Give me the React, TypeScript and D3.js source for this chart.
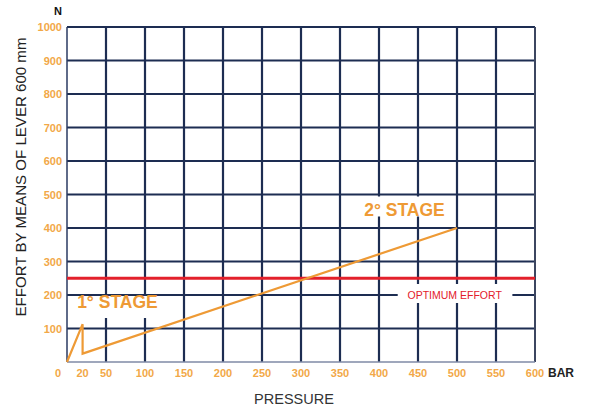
import React from "react";
import * as d3 from "d3";

const xTicks = [0, 20, 50, 100, 150, 200, 250, 300, 350, 400, 450, 500, 550, 600];
const xGrid = [50, 100, 150, 200, 250, 300, 350, 400, 450, 500, 550];
const yTicks = [100, 200, 300, 400, 500, 600, 700, 800, 900, 1000];
const yGrid = [100, 200, 300, 400, 500, 600, 700, 800, 900];
const stagePressure = [0, 20, 20, 500];
const stageEffort = [0, 113, 25, 400];
const optimumEffort = 250;

const W = 590;
const H = 410;
const FONT = "'Liberation Sans', Arial, Helvetica, sans-serif";
const GRID = "#1d2d52";
const ORANGE = "#ee9a35";
const TICK = "#f2a847";
const RED = "#e3202b";

export default function App() {
  const x = d3.scaleLinear().domain([0, 600]).range([67, 535]);
  const y = d3.scaleLinear().domain([0, 1000]).range([362, 27]);
  const pts = stagePressure.map((p, i) => [p, stageEffort[i]] as [number, number]);
  const line = d3
    .line<[number, number]>()
    .x((d) => x(d[0]))
    .y((d) => y(d[1]));

  return (
    <svg
      width={W}
      height={H}
      style={{ position: "absolute", left: 0, top: 0, background: "#fff" }}
      fontFamily={FONT}
    >
      {/* grid */}
      {xGrid.map((v) => (
        <line key={"vx" + v} x1={x(v)} x2={x(v)} y1={y(0)} y2={y(1000)} stroke={GRID} strokeWidth={2.2} />
      ))}
      {yGrid.map((v) => (
        <line key={"hy" + v} x1={x(0)} x2={x(600)} y1={y(v)} y2={y(v)} stroke={GRID} strokeWidth={2.2} />
      ))}
      <line x1={x(0)} x2={x(600)} y1={y(1000)} y2={y(1000)} stroke={GRID} strokeWidth={2} />
      <line x1={x(600)} x2={x(600)} y1={y(0)} y2={y(1000)} stroke="#3c4660" strokeWidth={2} />
      <line x1={x(0)} x2={x(600)} y1={y(0)} y2={y(0)} stroke="#7f8aa6" strokeWidth={1.5} />
      <line x1={x(0)} x2={x(0)} y1={y(0)} y2={y(1000)} stroke="#2a3a62" strokeWidth={1.5} />

      {/* label backgrounds */}
      <rect x={x(12)} y={y(200) + 1} width={x(130) - x(12)} height={22} fill="#fff" />
      <rect x={x(375)} y={y(500) + 2} width={x(490) - x(375)} height={20} fill="#fff" />
      <rect x={x(424)} y={y(200) - 11} width={x(571) - x(424)} height={19} fill="#fff" />

      {/* optimum effort */}
      <line x1={x(0)} x2={x(600)} y1={y(optimumEffort)} y2={y(optimumEffort)} stroke={RED} strokeWidth={3} />
      <text x={x(497)} y={y(200) + 4} textAnchor="middle" fill={RED} fontSize={10.5}>
        OPTIMUM EFFORT
      </text>

      {/* stage line */}
      <path d={line(pts) || ""} fill="none" stroke={ORANGE} strokeWidth={2.2} strokeLinejoin="miter" />

      <text x={x(13)} y={y(150) - 4} fill={ORANGE} fontSize={17.5} fontWeight="bold">
        1° STAGE
      </text>
      <text x={x(381)} y={y(450) + 5} fill={ORANGE} fontSize={17.5} fontWeight="bold">
        2° STAGE
      </text>

      {/* y ticks */}
      {yTicks.map((v) => (
        <text key={"yt" + v} x={62} y={y(v) + 4} textAnchor="end" fill={TICK} fontSize={11} fontWeight="bold">
          {v}
        </text>
      ))}
      {/* x ticks */}
      {xTicks.map((v) => (
        <text
          key={"xt" + v}
          x={x(v) + (v === 0 ? -9 : 0)}
          y={377}
          textAnchor="middle"
          fill={TICK}
          fontSize={11}
          fontWeight="bold"
        >
          {v}
        </text>
      ))}
      <text x={548} y={377} fill="#222" fontSize={12} fontWeight="bold">
        BAR
      </text>
      <text x={58} y={15} textAnchor="middle" fill="#111" fontSize={11} fontWeight="bold">
        N
      </text>
      <text x={294} y={404} textAnchor="middle" fill="#333" fontSize={14.5}>
        PRESSURE
      </text>
      <text
        transform={`translate(26, 177) rotate(-90)`}
        textAnchor="middle"
        fill="#222"
        fontSize={14}
        textLength={279}
        lengthAdjust="spacingAndGlyphs"
      >
        EFFORT BY MEANS OF LEVER 600 mm
      </text>
    </svg>
  );
}
